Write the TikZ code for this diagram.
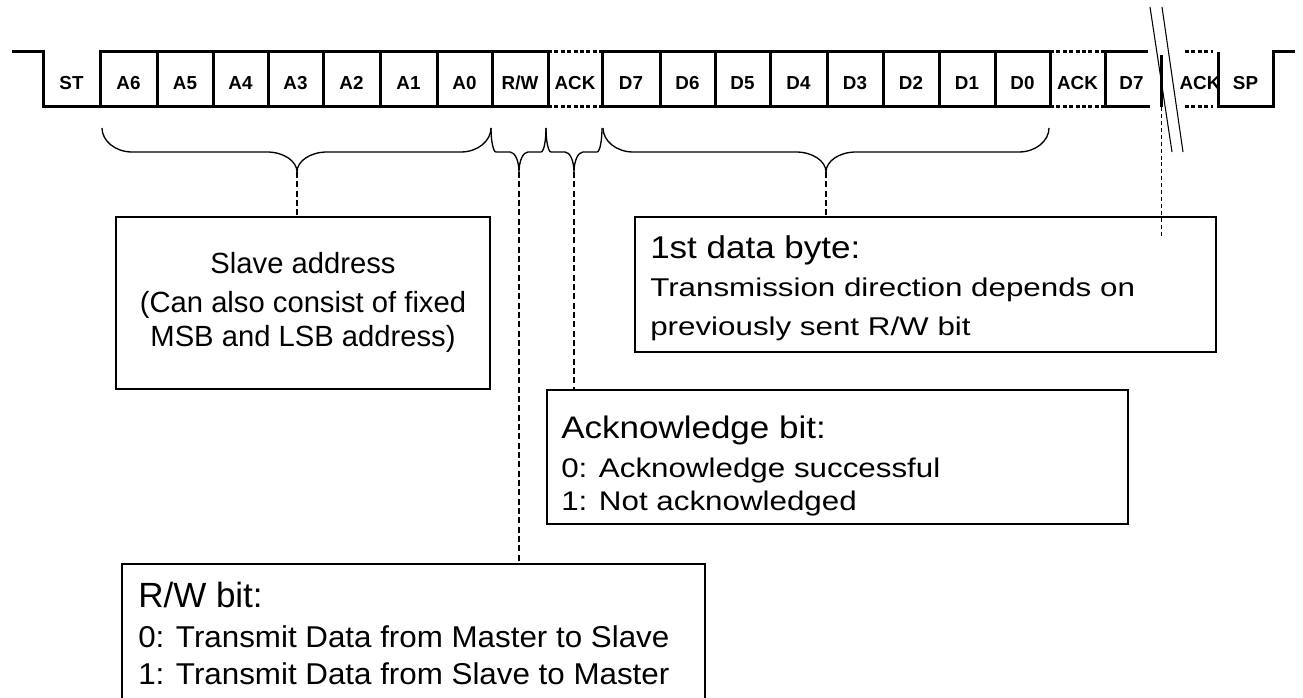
\documentclass[tikz,border=0pt]{standalone}
\usepackage{graphicx}
\usepackage{fontspec}
\setmainfont{Liberation Sans}
\usetikzlibrary{fit}
\newcommand{\Ttlfnt}{\fontsize{26.25}{30}\selectfont}
\newcommand{\Bdyfnt}{\fontsize{23.5}{27}\selectfont}
\newcommand{\Slvfnt}{\fontsize{21.9}{26}\selectfont}
\newcommand{\drawbrace}[5]{%
  \draw[bracepath] (#1,128) .. controls (#1,141) and ({#1+0.45*#4},152) .. ({#1+#4},152)
    -- ({#3-#5},152) .. controls ({#3-0.45*#5},152) and (#3,161) .. (#3,172)
    .. controls (#3,161) and ({#3+0.45*#5},152) .. ({#3+#5},152)
    -- ({#2-#4},152) .. controls ({#2-0.45*#4},152) and (#2,141) .. (#2,128);%
}
\begin{document}
\begin{tikzpicture}[x=0.75pt,y=-0.75pt,
  sig/.style={line width=2.25pt, line join=miter},
  ackdot/.style={line width=2.25pt, dash pattern=on 3pt off 1.8pt},
  bitlabel/.style={font=\fontsize{14.1}{16}\selectfont\bfseries, anchor=base, inner sep=0pt},
  bracepath/.style={line width=1pt},
  lead/.style={line width=1.1pt, dash pattern=on 4.5pt off 2.5pt},
  thinlead/.style={line width=0.7pt, dash pattern=on 3pt off 2.2pt},
  breakstroke/.style={line width=0.8pt},
  infobox/.style={draw, line width=1.3pt, inner sep=0pt},
  boxtext/.style={anchor=base west, inner sep=0pt},
  centertext/.style={anchor=base, inner sep=0pt, font=\Slvfnt},
]
\clip (0,0) rectangle (1303,698);
\fill[white] (0,0) rectangle (1303,698);

% ---- signal waveform ----
\draw[sig] (12,52) -- (43,52) -- (43,107) -- (100,107) -- (100,52) -- (548,52);
\draw[sig] (100,107) -- (548,107);
\foreach \x in {157,213,268,323,380,437,492,548} \draw[sig] (\x,52) -- (\x,107);
\draw[ackdot] (548,52) -- (602,52);
\draw[ackdot] (548,107) -- (602,107);
\draw[sig] (602,52) -- (1050,52);
\draw[sig] (602,107) -- (1050,107);
\foreach \x in {602,660,715,770,827,883,939,995,1050} \draw[sig] (\x,52) -- (\x,107);
\draw[ackdot] (1050,52) -- (1105,52);
\draw[ackdot] (1050,107) -- (1105,107);
\draw[sig] (1148,52) -- (1105,52) -- (1105,107) -- (1150,107);
\coordinate (bartop) at (1161,55);
\coordinate (brk) at (1161,107);
\draw[sig] (bartop) -- (brk);
\draw[ackdot] (1185,52) -- (1213,52);
\draw[ackdot] (1185,107) -- (1213,107);
\draw[sig] (1218,52) -- (1218,107) -- (1273,107) -- (1273,52) -- (1295,52);

% ---- break marks ----
\draw[breakstroke] (1150,7) -- (1172,152);
\draw[breakstroke] (1162,7) -- (1183,152);

% ---- bit labels ----
\node[bitlabel] (lST)  at (71.5,89.5) {ST};
\node[bitlabel] (lA6)  at (128.5,89.5) {A6};
\node[bitlabel] (lA5)  at (185,89.5) {A5};
\node[bitlabel] (lA4)  at (240.5,89.5) {A4};
\node[bitlabel] (lA3)  at (295.5,89.5) {A3};
\node[bitlabel] (lA2)  at (351.5,89.5) {A2};
\node[bitlabel] (lA1)  at (408.5,89.5) {A1};
\node[bitlabel] (lA0)  at (464.5,89.5) {A0};
\node[bitlabel] (lRW)  at (520,89.5) {R/W};
\node[bitlabel] (lACKa) at (575,89.5) {ACK};
\node[bitlabel] (lD7)  at (631,89.5) {D7};
\node[bitlabel] (lD6)  at (687.5,89.5) {D6};
\node[bitlabel] (lD5)  at (742.5,89.5) {D5};
\node[bitlabel] (lD4)  at (798.5,89.5) {D4};
\node[bitlabel] (lD3)  at (855,89.5) {D3};
\node[bitlabel] (lD2)  at (911,89.5) {D2};
\node[bitlabel] (lD1)  at (967,89.5) {D1};
\node[bitlabel] (lD0)  at (1022.5,89.5) {D0};
\node[bitlabel] (lACKb) at (1077.5,89.5) {ACK};
\node[bitlabel] (lD7b) at (1131.5,89.5) {D7};
\node[bitlabel] (lACKc) at (1200,89.5) {ACK};
\node[bitlabel] (lSP)  at (1245.5,89.5) {SP};

% ---- braces ----
\drawbrace{102}{491}{297}{30}{30}
\drawbrace{491}{546}{519}{5}{9}
\drawbrace{546}{602}{574}{5}{9}
\drawbrace{603}{1049}{826}{30}{30}
\coordinate (slavetip) at (297,172);
\coordinate (rwtip) at (519,172);
\coordinate (acktip) at (574,172);
\coordinate (datatip) at (826,172);

% ---- info boxes ----
\node[infobox, fit={(116,217) (490,389)}] (slavebox) {};
\node[infobox, fit={(635,217) (1216,352)}] (databox) {};
\node[infobox, fit={(547,390) (1128,524)}] (ackbox) {};
\node[infobox, fit={(122,564) (705,712)}] (rwbox) {};

% ---- leads ----
\draw[lead] (slavetip) -- (slavetip |- slavebox.north);
\draw[lead] (rwtip) -- (rwtip |- rwbox.north);
\draw[lead] (acktip) -- (acktip |- ackbox.north);
\draw[lead] (datatip) -- (datatip |- databox.north);
\coordinate (brkend) at (1161,238);
\draw[thinlead] (brk) -- (brkend);

% ---- box texts ----
\node[centertext] (s1) at (303,274) {Slave address};
\node[centertext] (s2) at (303,313) {(Can also consist of fixed};
\node[centertext] (s3) at (303,347) {MSB and LSB address)};

\node[boxtext, font=\Ttlfnt] (d1) at (650,259) {\scalebox{1}[0.9]{1st data byte:}};
\node[boxtext, font=\Bdyfnt] (d2) at (650,297) {\scalebox{1}[0.82]{Transmission direction depends on}};
\node[boxtext, font=\Bdyfnt] (d3) at (650,336) {\scalebox{1}[0.82]{previously sent R/W bit}};

\node[boxtext, font=\Ttlfnt] (a1) at (561,439) {\scalebox{1}[0.89]{Acknowledge bit:}};
\node[boxtext, font=\Bdyfnt] (a2) at (561,478) {\scalebox{1}[0.86]{0: Acknowledge successful}};
\node[boxtext, font=\Bdyfnt] (a3) at (561,510) {\scalebox{1}[0.86]{1: Not acknowledged}};

\node[boxtext, font=\Ttlfnt] (r1) at (138,607) {R/W bit:};
\node[boxtext, font=\Bdyfnt] (r2) at (138,647) {\scalebox{1}[0.96]{0: Transmit Data from Master to Slave}};
\node[boxtext, font=\Bdyfnt] (r3) at (138,684) {\scalebox{1}[0.96]{1: Transmit Data from Slave to Master}};
\end{tikzpicture}
\end{document}
